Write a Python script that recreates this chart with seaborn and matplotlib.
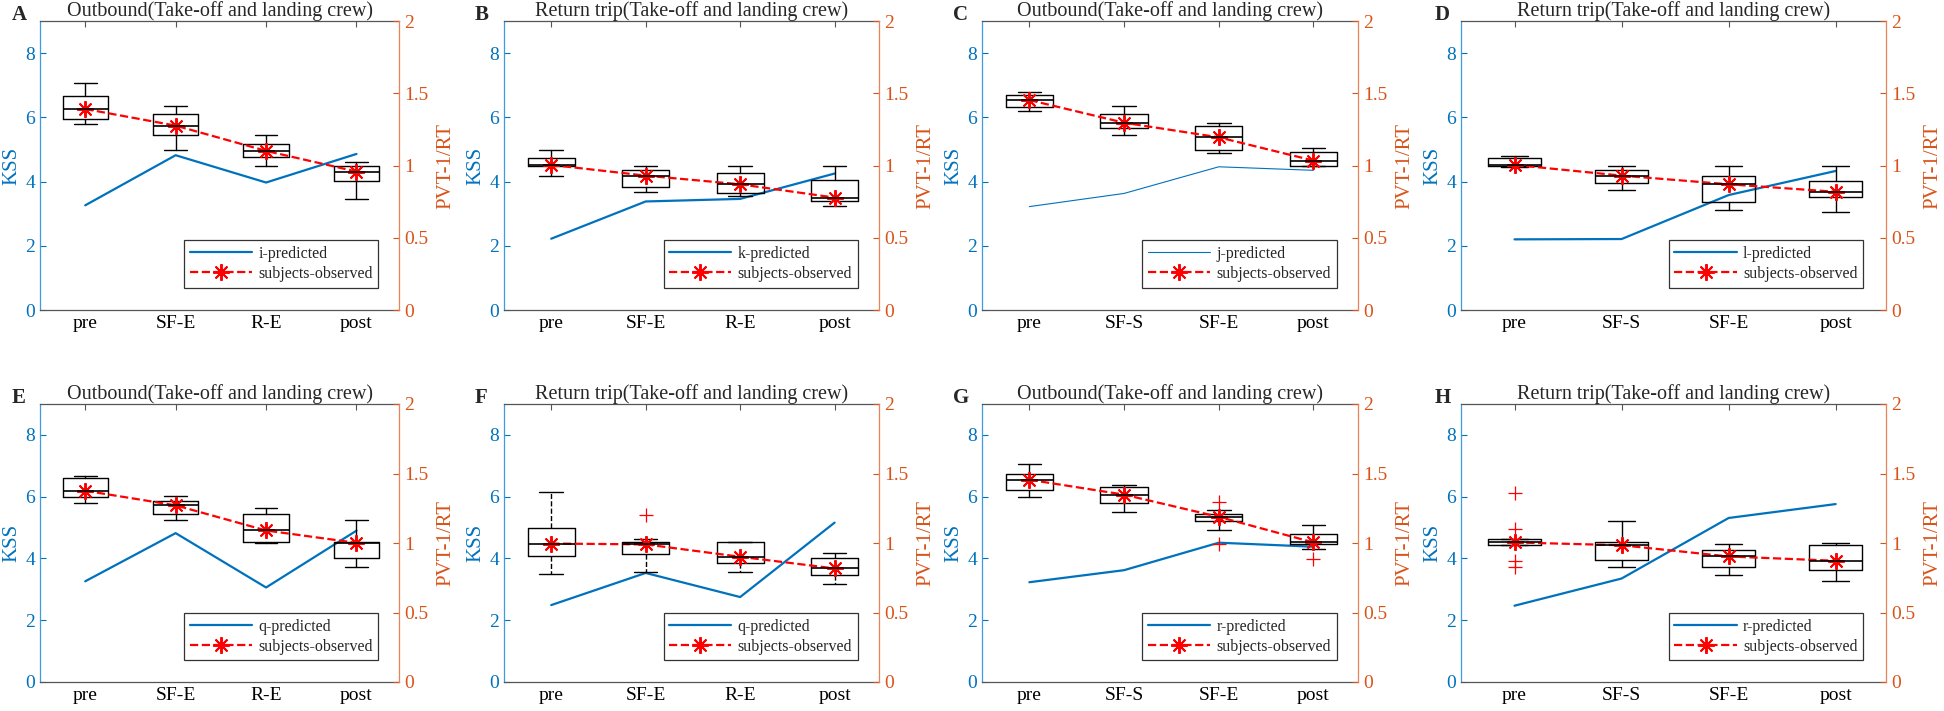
import numpy as np
import matplotlib
matplotlib.use("Agg")
import matplotlib.pyplot as plt
import seaborn as sns

sns.set_style("white")
plt.rcParams['font.family'] = ['Liberation Serif', 'DejaVu Serif']

BLUE = "#0072BD"
ORANGE = "#D95319"
GRAY = "#555555"

stages_re = ["pre", "SF-E", "R-E", "post"]
stages_sf = ["pre", "SF-S", "SF-E", "post"]

# predicted KSS (left axis)
A_pred = [3.26, 4.82, 3.97, 4.86]
B_pred = [2.22, 3.38, 3.46, 4.25]
C_pred = [3.22, 3.63, 4.46, 4.35]
D_pred = [2.20, 2.21, 3.58, 4.33]
E_pred = [3.26, 4.82, 3.06, 4.90]
F_pred = [2.49, 3.53, 2.75, 5.16]
G_pred = [3.23, 3.62, 4.51, 4.38]
H_pred = [2.47, 3.35, 5.31, 5.76]

# observed PVT-1/RT box statistics (right axis)
A_hi = [1.571, 1.409, 1.209, 1.027]
A_q3 = [1.478, 1.354, 1.151, 0.999]
A_med = [1.391, 1.276, 1.101, 0.958]
A_q1 = [1.322, 1.214, 1.059, 0.893]
A_lo = [1.290, 1.108, 0.999, 0.769]

B_hi = [1.108, 0.997, 0.997, 0.997]
B_q3 = [1.052, 0.970, 0.949, 0.900]
B_med = [1.004, 0.930, 0.870, 0.778]
B_q1 = [0.995, 0.854, 0.813, 0.753]
B_lo = [0.930, 0.818, 0.788, 0.718]

C_hi = [1.511, 1.409, 1.296, 1.121]
C_q3 = [1.488, 1.354, 1.273, 1.094]
C_med = [1.453, 1.296, 1.195, 1.034]
C_q1 = [1.405, 1.262, 1.108, 0.999]
C_lo = [1.379, 1.209, 1.089, 0.999]

D_hi = [1.069, 0.997, 0.997, 0.997]
D_q3 = [1.050, 0.972, 0.928, 0.896]
D_med = [1.004, 0.930, 0.870, 0.818]
D_q1 = [0.999, 0.880, 0.746, 0.781]
D_lo = [0.988, 0.827, 0.691, 0.677]

E_hi = [1.479, 1.338, 1.250, 1.166]
E_q3 = [1.465, 1.300, 1.207, 1.004]
E_med = [1.376, 1.271, 1.090, 1.001]
E_q1 = [1.329, 1.209, 1.004, 0.889]
E_lo = [1.288, 1.166, 0.999, 0.829]

F_hi = [1.367, 1.030, 1.004, 0.930]
F_q3 = [1.106, 1.006, 1.004, 0.889]
F_med = [0.996, 0.990, 0.901, 0.817]
F_q1 = [0.906, 0.918, 0.853, 0.767]
F_lo = [0.779, 0.791, 0.791, 0.707]
F_out = [[], [1.204], [], []]

G_hi = [1.568, 1.417, 1.238, 1.130]
G_q3 = [1.498, 1.405, 1.207, 1.068]
G_med = [1.455, 1.348, 1.188, 1.004]
G_q1 = [1.379, 1.288, 1.159, 0.996]
G_lo = [1.329, 1.226, 1.090, 0.956]
G_out = [[], [], [1.295, 0.996], [0.884]]

H_hi = [1.030, 1.157, 0.996, 0.999]
H_q3 = [1.030, 1.008, 0.953, 0.989]
H_med = [1.004, 0.984, 0.903, 0.872]
H_q1 = [0.989, 0.877, 0.829, 0.805]
H_lo = [0.989, 0.829, 0.767, 0.729]
H_out = [[1.362, 1.099, 0.870, 0.829], [], [], []]

no_out = [[], [], [], []]

panels = [
    ("A", "Outbound(Take-off and landing crew)", stages_re, A_pred, "i-predicted", A_hi, A_q3, A_med, A_q1, A_lo, no_out),
    ("B", "Return trip(Take-off and landing crew)", stages_re, B_pred, "k-predicted", B_hi, B_q3, B_med, B_q1, B_lo, no_out),
    ("C", "Outbound(Take-off and landing crew)", stages_sf, C_pred, "j-predicted", C_hi, C_q3, C_med, C_q1, C_lo, no_out),
    ("D", "Return trip(Take-off and landing crew)", stages_sf, D_pred, "l-predicted", D_hi, D_q3, D_med, D_q1, D_lo, no_out),
    ("E", "Outbound(Take-off and landing crew)", stages_re, E_pred, "q-predicted", E_hi, E_q3, E_med, E_q1, E_lo, no_out),
    ("F", "Return trip(Take-off and landing crew)", stages_re, F_pred, "q-predicted", F_hi, F_q3, F_med, F_q1, F_lo, F_out),
    ("G", "Outbound(Take-off and landing crew)", stages_sf, G_pred, "r-predicted", G_hi, G_q3, G_med, G_q1, G_lo, G_out),
    ("H", "Return trip(Take-off and landing crew)", stages_sf, H_pred, "r-predicted", H_hi, H_q3, H_med, H_q1, H_lo, H_out),
]

W, H = 1944, 711
# axes boxes in pixels: left, right
cols = [(40, 399), (504, 879), (982, 1358), (1461, 1886)]
rows = [(21, 310), (404, 682)]
letter_x = [12, 475, 953, 1435]
letter_y = [15, 398]

fig = plt.figure(figsize=(W / 100, H / 100), dpi=100)

for i, (letter, title, stages, pred, pred_label, hi, q3, med, q1, lo, outs) in enumerate(panels):
    r, c = divmod(i, 4)
    x0, x1 = cols[c]
    y0, y1 = rows[r]
    ax = fig.add_axes([x0 / W, 1 - y1 / H, (x1 - x0) / W, (y1 - y0) / H])
    ax2 = ax.twinx()
    pos = np.arange(len(stages))

    sns.lineplot(x=pos, y=pred, ax=ax, color=BLUE, lw=0.8 if letter == "C" else 1.6,
                 label=pred_label, legend=False)

    stats = []
    for k in range(4):
        stats.append(dict(med=med[k], q1=q1[k], q3=q3[k], whislo=lo[k], whishi=hi[k], fliers=outs[k]))
    ax2.bxp(stats, positions=pos, widths=0.5, capwidths=0.25, manage_ticks=False,
            boxprops=dict(color="black", lw=1.0),
            medianprops=dict(color="black", lw=1.2),
            whiskerprops=dict(color="black", lw=1.0, ls="--" if letter == "F" else "-"),
            capprops=dict(color="black", lw=1.0),
            flierprops=dict(marker="+", markeredgecolor="red", markersize=10, markeredgewidth=0.9))

    sns.lineplot(x=pos, y=med, ax=ax2, color="red", linestyle="--", lw=1.6,
                 marker=(8, 2, 0), markersize=12, markeredgewidth=1.4, markeredgecolor="red",
                 label="subjects-observed", legend=False)

    ax.set_xlim(-0.5, 3.47)
    ax.set_ylim(0, 9)
    ax2.set_ylim(0, 2)
    ax.set_xticks(pos)
    ax.set_xticklabels(stages)
    ax.set_yticks([0, 2, 4, 6, 8])
    ax2.set_yticks([0, 0.5, 1, 1.5, 2])
    ax2.set_yticklabels(["0", "0.5", "1", "1.5", "2"])

    ax.tick_params(axis="x", direction="in", top=True, length=4, colors=GRAY, labelcolor="black", labelsize=14)
    ax.tick_params(axis="y", direction="in", length=4, colors=BLUE, labelsize=14)
    ax2.tick_params(axis="y", direction="in", length=4, colors=ORANGE, labelsize=14)

    ax.set_ylabel("KSS", color=BLUE, fontsize=15, labelpad=3)
    ax2.set_ylabel("PVT-1/RT", color=ORANGE, fontsize=15, labelpad=6)
    ax.set_title(title, fontsize=14.5, pad=2)

    for s in ("top", "bottom"):
        ax.spines[s].set_color(GRAY)
        ax.spines[s].set_linewidth(0.9)
        ax2.spines[s].set_visible(False)
    ax.spines["left"].set_color("#3D9BE0")
    ax.spines["left"].set_linewidth(0.9)
    ax.spines["right"].set_visible(False)
    ax2.spines["left"].set_visible(False)
    ax2.spines["right"].set_color("#E8825A")
    ax2.spines["right"].set_linewidth(0.9)

    handles = ax.get_lines()[:1] + [ax2.get_lines()[-1]]
    leg = ax2.legend(handles=handles, labels=[pred_label, "subjects-observed"],
                     loc="lower right", bbox_to_anchor=(0.965, 0.05), fontsize=11.5,
                     fancybox=False, frameon=True, edgecolor="black", handlelength=3.9,
                     labelspacing=0.25, borderpad=0.35, handletextpad=0.4)
    leg.get_frame().set_linewidth(0.9)

    fig.text(letter_x[c] / W, 1 - letter_y[r] / H, letter, fontsize=15, fontweight="bold",
             ha="left", va="center")

fig.savefig("out.png", dpi=100)
